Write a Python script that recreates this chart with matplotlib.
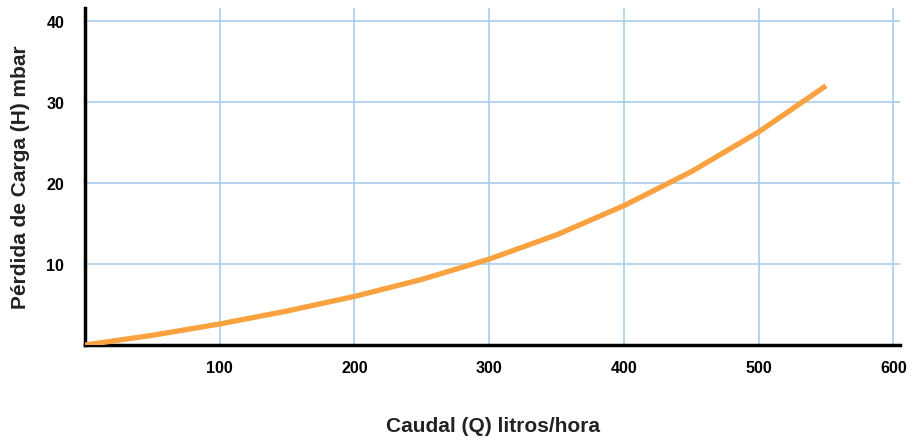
import matplotlib.pyplot as plt

caudal = [0, 50, 100, 150, 200, 250, 300, 350, 400, 450, 500, 550]
perdida = [0, 1.2, 2.6, 4.2, 6.0, 8.1, 10.6, 13.6, 17.2, 21.4, 26.3, 32.0]
x_ticks = [100, 200, 300, 400, 500, 600]
y_ticks = [10, 20, 30, 40]

plt.rcParams['font.family'] = ['Liberation Sans', 'DejaVu Sans']

fig = plt.figure(figsize=(9.12, 4.39), dpi=100)
ax = fig.add_axes([0.0932, 0.2118, 0.8938, 0.7677])

ax.plot(caudal, perdida, color="#f9a23f", linewidth=3.8, solid_capstyle="butt",
        solid_joinstyle="round", zorder=3)

ax.set_xlim(0, 605)
ax.set_ylim(0, 41.6)
ax.set_xticks(x_ticks)
ax.set_yticks(y_ticks)
ax.tick_params(length=0, labelsize=11.5)
ax.tick_params(axis="x", pad=11)
ax.tick_params(axis="y", pad=15)
for lbl in ax.get_xticklabels() + ax.get_yticklabels():
    lbl.set_fontweight("bold")

ax.grid(True, color="#a9cdeb", linewidth=1.2)
ax.set_axisbelow(True)

for s in ["top", "right"]:
    ax.spines[s].set_visible(False)
for s in ["left", "bottom"]:
    ax.spines[s].set_linewidth(2.5)
    ax.spines[s].set_color("black")

ax.set_xlabel("Caudal (Q) litros/hora", fontsize=15, fontweight="bold", color="#222222")
ax.set_ylabel("Pérdida de Carga (H) mbar", fontsize=15, fontweight="bold", color="#222222")
ax.xaxis.set_label_coords(0.5, -0.212)
ax.yaxis.set_label_coords(-0.068, 0.5)

fig.savefig("out.png", dpi=100)
